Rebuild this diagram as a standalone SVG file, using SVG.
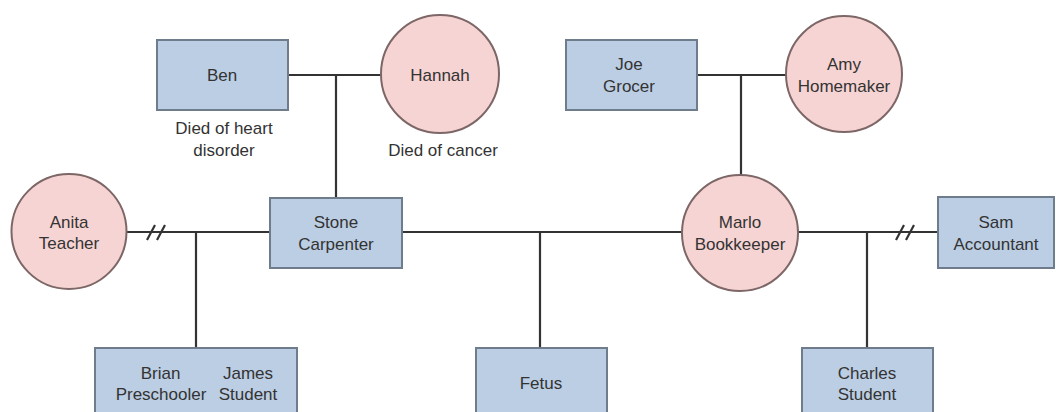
<svg xmlns="http://www.w3.org/2000/svg" width="1056" height="412" viewBox="0 0 1056 412">
<style>
.m{fill:#bccee3;stroke:#6e7c8c;stroke-width:2}
.f{fill:#f7d4d4;stroke:#7d6666;stroke-width:2}
.t{font-family:"Liberation Sans",Arial,sans-serif;font-size:17px;fill:#333;text-anchor:middle}
.c{stroke:#333;stroke-width:2.2;fill:none}
</style>
<rect width="1056" height="412" fill="#fff"/>
<g id="connectors">
<path class="c" d="M288 75H381M336 75V198"/>
<path class="c" d="M697 75H786M741 75V175"/>
<path class="c" d="M127 232H270M196 232V348"/>
<path class="c" d="M147 240L155 225M157 240L165 225"/>
<path class="c" d="M402 232H682M540 232V348"/>
<path class="c" d="M798 232H938M867 232V348"/>
<path class="c" d="M896 240L904 225M906 240L914 225"/>
</g>
<g id="ben"><rect class="m" x="157" y="40" width="131" height="70"/><text class="t" x="222" y="81">Ben</text>
<text class="t" x="224" y="134">Died of heart</text><text class="t" x="224" y="156">disorder</text></g>
<g id="hannah"><circle class="f" cx="440" cy="74" r="59"/><text class="t" x="440" y="81">Hannah</text>
<text class="t" x="443" y="156">Died of cancer</text></g>
<g id="joe"><rect class="m" x="566" y="40" width="131" height="70"/><text class="t" x="629" y="70">Joe</text><text class="t" x="629" y="92">Grocer</text></g>
<g id="amy"><circle class="f" cx="844" cy="74" r="58"/><text class="t" x="844" y="70">Amy</text><text class="t" x="844" y="92">Homemaker</text></g>
<g id="anita"><circle class="f" cx="69" cy="231.5" r="57.5"/><text class="t" x="69" y="228">Anita</text><text class="t" x="69" y="249">Teacher</text></g>
<g id="stone"><rect class="m" x="270" y="198" width="132" height="70"/><text class="t" x="336" y="228">Stone</text><text class="t" x="336" y="250">Carpenter</text></g>
<g id="marlo"><circle class="f" cx="740" cy="233" r="58"/><text class="t" x="740" y="228">Marlo</text><text class="t" x="740" y="250">Bookkeeper</text></g>
<g id="sam"><rect class="m" x="938" y="197" width="116" height="71"/><text class="t" x="996" y="228">Sam</text><text class="t" x="996" y="250">Accountant</text></g>
<g id="brian-james"><rect class="m" x="95" y="348" width="202" height="80"/><text class="t" x="160.5" y="379">Brian</text><text class="t" x="161" y="400">Preschooler</text>
<text class="t" x="248" y="379">James</text><text class="t" x="248" y="400">Student</text></g>
<g id="fetus"><rect class="m" x="476" y="348" width="131" height="80"/><text class="t" x="541" y="389">Fetus</text></g>
<g id="charles"><rect class="m" x="802" y="348" width="131" height="80"/><text class="t" x="867" y="379">Charles</text><text class="t" x="867" y="400">Student</text></g>
</svg>
